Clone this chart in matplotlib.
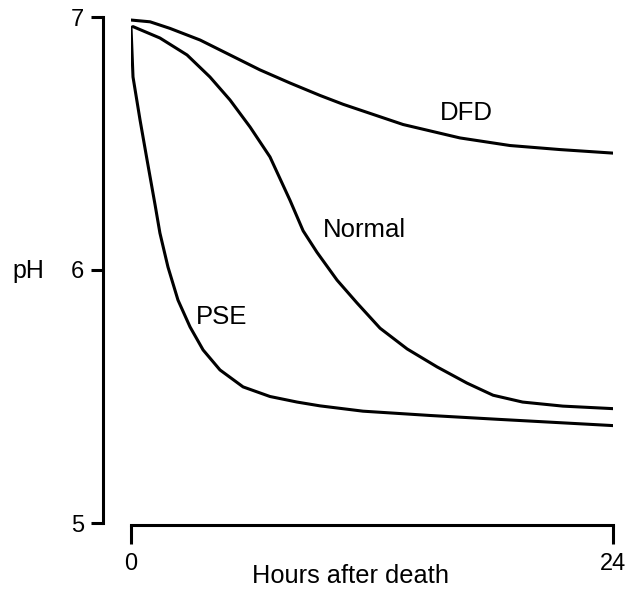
import matplotlib
matplotlib.use("Agg")
import matplotlib.pyplot as plt

plt.rcParams['font.family'] = ['Liberation Sans', 'DejaVu Sans']

# Data
dfd_hours = [0, 0.95, 1.94, 3.44, 4.93, 6.42, 7.92, 9.41, 10.56, 13.55, 16.38, 18.87, 21.36, 24]
dfd_ph = [6.988, 6.981, 6.955, 6.909, 6.850, 6.791, 6.739, 6.690, 6.655, 6.575, 6.522, 6.492, 6.476, 6.462]

normal_hours = [0.1, 1.44, 2.79, 3.93, 4.93, 5.93, 6.92, 7.92, 8.57, 9.26, 10.26,
                11.25, 12.40, 13.75, 15.24, 16.73, 18.03, 19.5, 21.5, 24]
normal_ph = [6.962, 6.917, 6.850, 6.763, 6.672, 6.565, 6.447, 6.275, 6.155, 6.070, 5.960,
             5.870, 5.770, 5.688, 5.617, 5.553, 5.505, 5.478, 5.462, 5.452]

pse_hours = [0, 0.10, 0.45, 0.80, 1.20, 1.44, 1.84, 2.34, 2.94, 3.59, 4.43, 5.58, 6.92, 8.27,
             9.41, 11.55, 14.89, 18.23, 24]
pse_ph = [6.960, 6.763, 6.593, 6.435, 6.257, 6.146, 6.012, 5.881, 5.775, 5.684, 5.605, 5.538, 5.500,
          5.478, 5.463, 5.442, 5.425, 5.410, 5.385]

x_ticks = [0, 24]
y_ticks = [5, 6, 7]

labels = ["DFD", "Normal", "PSE"]
label_pos = [(16.7, 6.62), (11.6, 6.16), (4.53, 5.816)]

fig = plt.figure(figsize=(6.29, 5.92), dpi=100)
W, H = 629, 592
ax = fig.add_axes([131 / W, 1 - 523 / H, (613 - 131) / W, (523 - 17) / H])

lw = 2.2
for hx, py in [(dfd_hours, dfd_ph), (normal_hours, normal_ph), (pse_hours, pse_ph)]:
    ax.plot(hx, py, color='black', lw=lw, solid_joinstyle='round', solid_capstyle='round')

for lab, (xx, yy) in zip(labels, label_pos):
    ax.text(xx, yy, lab, fontsize=18.5, ha='center', va='center')

ax.set_xlim(0, 24)
ax.set_ylim(5, 7)
ax.set_xticks(x_ticks)
ax.set_yticks(y_ticks)
ax.set_xticklabels([str(t) for t in x_ticks])
ax.set_yticklabels([str(t) for t in y_ticks])

for s in ['top', 'right']:
    ax.spines[s].set_visible(False)
ax.spines['left'].set_position(('outward', 20))
ax.spines['bottom'].set_position(('outward', 1.5))
ax.spines['left'].set_linewidth(2.2)
ax.spines['bottom'].set_linewidth(2.2)

ax.tick_params(axis='y', direction='out', length=8.5, width=2.2, labelsize=17, pad=5)
ax.tick_params(axis='x', direction='out', length=14, width=2.2, labelsize=17, pad=6)

ax.set_xlabel("Hours after death", fontsize=18.3)
ax.xaxis.set_label_coords((350 - 131) / 482, -(576 - 523) / 506)
ax.xaxis.label.set_va('center')
ax.set_ylabel("pH", fontsize=18, rotation=0, ha='center', va='center')
ax.yaxis.set_label_coords((28 - 131) / 482, (523 - 271) / 506)

fig.savefig("out.png", dpi=100, facecolor='white')
